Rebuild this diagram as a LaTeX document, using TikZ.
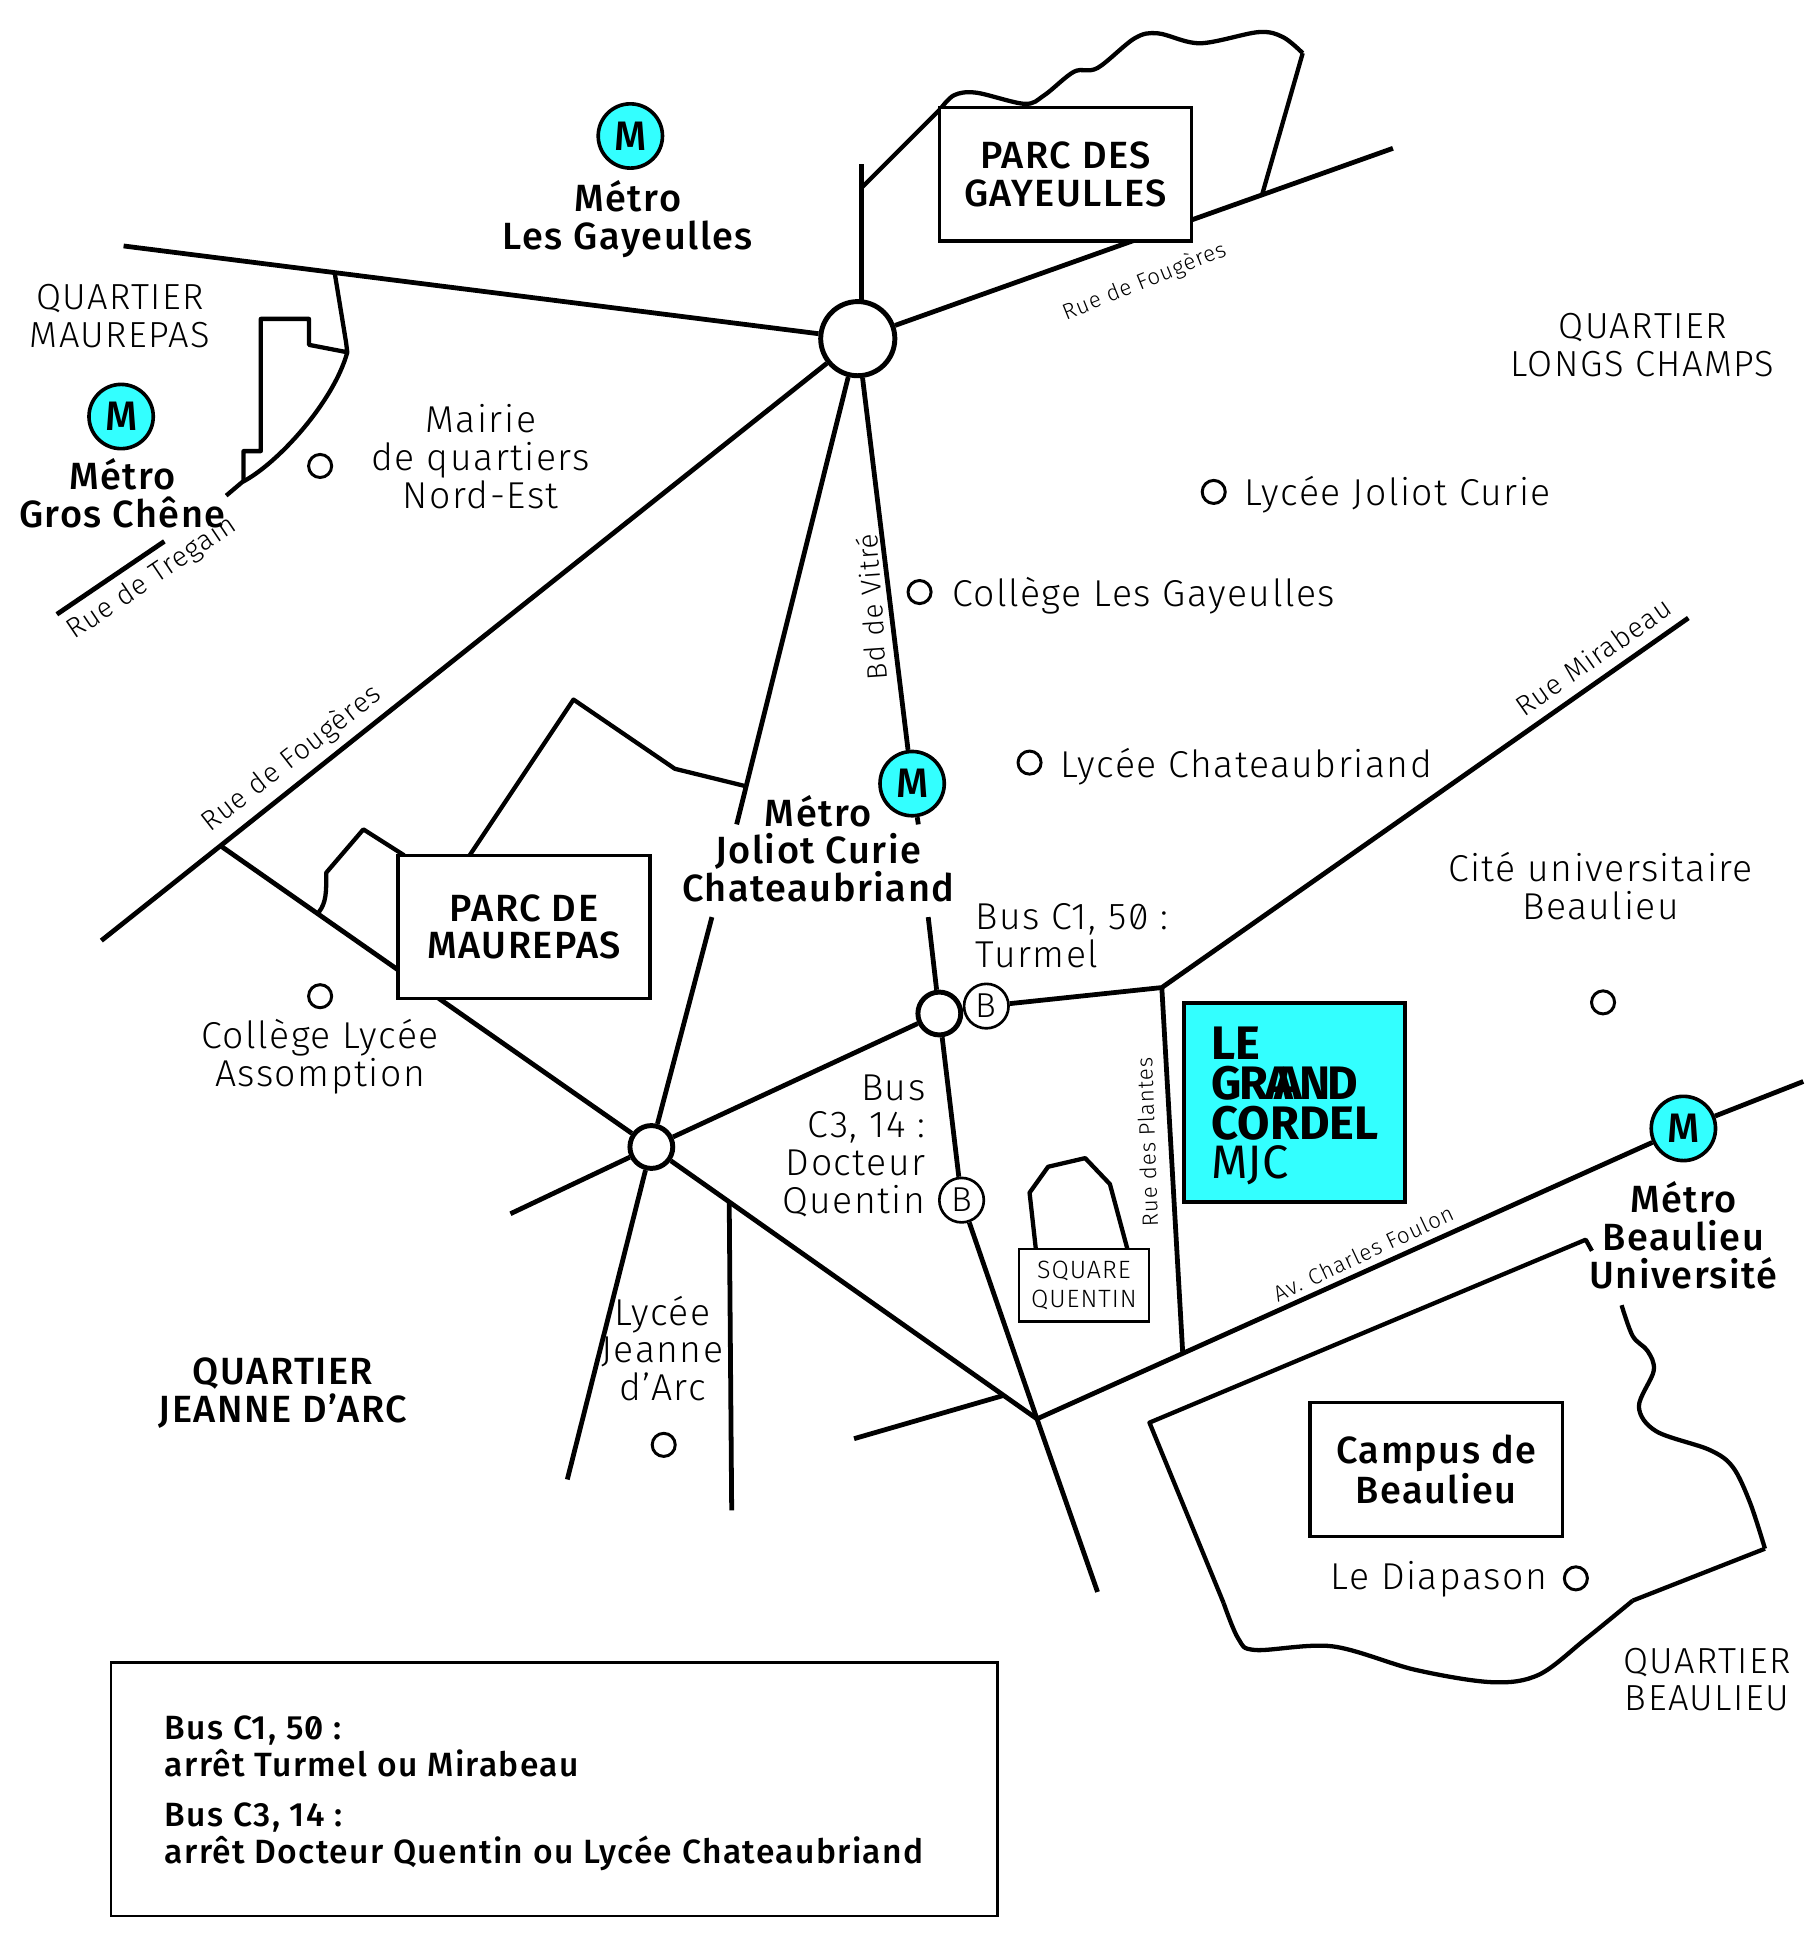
\documentclass[tikz,border=0pt]{standalone}
\usepackage{fontspec}
\setmainfont{Fira Sans Light}[BoldFont={Fira Sans Medium},RawFeature=+zero,LetterSpace=4]
\newfontfamily\cordelfont{Fira Sans}[BoldFont={Fira Sans Bold}]
\definecolor{metrocyan}{HTML}{33FFFF}
\tikzset{
  road/.style={line width=2.9pt,line cap=butt},
  edgeline/.style={line width=2.6pt,line join=round},
  rondpoint/.style={circle,draw,line width=3pt,fill=white,inner sep=0pt},
  metro/.style={circle,draw,line width=2.2pt,fill=metrocyan,inner sep=0pt,minimum size=39pt,font=\bfseries\fontsize{25}{25}\selectfont},
  busstop/.style={circle,draw,line width=1.6pt,fill=white,inner sep=0pt,minimum size=27pt,font=\fontsize{21}{21}\selectfont},
  poi/.style={circle,draw,line width=1.8pt,inner sep=0pt,minimum size=14pt},
  lieu/.style={align=center,inner sep=0pt,font=\fontsize{22.7}{22.9}\selectfont},
  quartier/.style={align=center,inner sep=0pt,font=\fontsize{22}{22.9}\selectfont},
  gras/.style={align=center,inner sep=0pt,font=\bfseries\fontsize{23}{22.9}\selectfont},
  legendetxt/.style={anchor=west,align=left,inner sep=0pt,font=\bfseries\fontsize{20.4}{22.9}\selectfont},
  rue/.style={inner sep=0pt,font=\fontsize{17}{17}\selectfont},
  petiterue/.style={inner sep=0pt,font=\fontsize{13.5}{13.5}\selectfont},
  parc/.style={draw,line width=2pt,fill=white,inner sep=0pt,align=center,font=\bfseries\fontsize{23}{22.9}\selectfont}
}
\begin{document}
\begin{tikzpicture}[x=0.75pt,y=-0.75pt]
\useasboundingbox (0,0) rectangle (1463,1568);
% junctions
\node[rondpoint,minimum size=45pt] (raGayeulles) at (694,274) {};
\node[rondpoint,minimum size=26pt] (raAssomption) at (527,928) {};
\node[rondpoint,minimum size=26pt] (raTurmel) at (760,820) {};
\node[busstop] (busTurmel) at (798,814) {B};
\node[busstop] (busQuentin) at (778,971) {B};
\node[metro] (mGayeulles) at (510,110) {M};
\node[metro] (mGrosChene) at (98,337) {M};
\node[metro] (mJoliot) at (738,634) {M};
\node[metro] (mBeaulieu) at (1362,913) {M};
% free road ends
\coordinate (nordOuest) at (100,199);
\coordinate (fougeresEst) at (1127,120);
\coordinate (fougeresOuest) at (82,761);
\coordinate (tregainBas) at (46,497);
\coordinate (tregainHaut) at (133,438);
\coordinate (jeanneBas) at (459,1197);
\coordinate (jdaBas) at (592,1222);
\coordinate (jdaHaut) at (590,973);
\coordinate (ouestBas) at (413,982);
\coordinate (carrefour) at (839,1148);
\coordinate (vitreBas) at (888,1288);
\coordinate (mirabeau) at (1366,500);
\coordinate (turmelAngle) at (940,799);
\coordinate (foulonEst) at (1459,875);
\coordinate (plantesBas) at (957,1096);
\coordinate (ouestSud) at (691,1164);
\coordinate (ouestSudFin) at (812,1129);
\coordinate (jonctionParc) at (178,684);
% roads
\draw[road] (nordOuest) -- (raGayeulles);
\draw[road] (raGayeulles) -- (fougeresEst);
\draw[road] (raGayeulles) -- (fougeresOuest);
\draw[road] (raGayeulles) -- (596,667);
\draw[road] (576,742) -- (raAssomption);
\draw[road] (raAssomption) -- (jeanneBas);
\draw[road] (raGayeulles) -- (mJoliot);
\draw[road] (mJoliot) -- (743,667);
\draw[road] (751,742) -- (raTurmel);
\draw[road] (raTurmel) -- (busQuentin);
\draw[road,line join=round] (busQuentin) -- (carrefour) -- (vitreBas);
\draw[road] (raAssomption) -- (raTurmel);
\draw[road] (raTurmel) -- (busTurmel);
\draw[road] (raAssomption) -- (ouestBas);
\draw[road] (raAssomption) -- (carrefour);
\draw[road] (jonctionParc) -- (raAssomption);
\draw[road] (jdaHaut) -- (jdaBas);
\draw[road] (ouestSud) -- (ouestSudFin);
\draw[road] (carrefour) -- (mBeaulieu);
\draw[road] (mBeaulieu) -- (foulonEst);
\draw[road,line join=round] (busTurmel) -- (turmelAngle) -- (mirabeau);
\draw[road] (turmelAngle) -- (plantesBas);
\draw[road] (tregainBas) -- (tregainHaut);
% limits of the parks
\draw[edgeline] (697,133) -- (697,245);
\draw[edgeline] (697,152) -- (761,88);
\draw[edgeline] plot[smooth,tension=0.55] coordinates {(761,88) (772,77) (790,75) (829,84) (845,77) (869,58) (888,55) (918,31) (937,27) (971,35) (1018,26) (1038,30) (1054,43)};
\draw[edgeline] (1054,43) -- (1021,158);
\draw[edgeline] (603,636) -- (546,622) -- (464,566) -- (380,692);
\draw[edgeline] (258,738) .. controls (264,730) and (264,722) .. (264,706) -- (294,671) -- (327,692);
\draw[edgeline] (271,222) -- (280,277) -- (281,285) -- (250,279) -- (250,258) -- (211,258) -- (211,365) -- (197,365) -- (197,390);
\draw[edgeline] (281,285) .. controls (270,325) and (225,375) .. (196,390) -- (183,401);
\draw[edgeline] (838,1010) -- (833,965) -- (848,944) -- (878,937) -- (898,958) -- (912,1010);
\draw[edgeline] plot[smooth,tension=0.55] coordinates {(1312,1056) (1321,1081) (1333,1093) (1338,1109) (1326,1138) (1340,1158) (1383,1173) (1402,1187) (1416,1216) (1428,1253)};
\draw[edgeline] (1428,1253) -- (1321,1295);
\draw[edgeline] plot[smooth,tension=0.55] coordinates {(1321,1295) (1283,1326) (1245,1355) (1207,1361) (1145,1351) (1078,1332) (1016,1335) (1002,1326) (990,1297)};
\draw[edgeline] (990,1297) -- (930,1151) -- (1283,1003) -- (1288,1012);
% boxes
\node[parc,minimum width=153pt,minimum height=81pt] (parcGayeulles) at (862,141) {PARC DES\\GAYEULLES};
\node[parc,minimum width=153pt,minimum height=87pt] (parcMaurepas) at (424,750) {PARC DE\\MAUREPAS};
\node[parc,minimum width=153pt,minimum height=81pt] (campus) at (1162,1189) {Campus de\\Beaulieu};
\node[draw,line width=1.6pt,fill=white,inner sep=0pt,align=center,minimum width=79pt,minimum height=44pt,font=\fontsize{15.2}{17.3}\selectfont] (squareQuentin) at (877,1040) {SQUARE\\QUENTIN};
\node[draw,line width=2.2pt,fill=metrocyan,minimum width=134pt,minimum height=121pt] (grandCordel) at (1047.5,892) {};
\node[anchor=west,inner sep=0pt,align=left,font=\cordelfont\fontsize{28.5}{24}\selectfont] (cordelTitre) at (980,895) {\textbf{LE}\\\textbf{G\kern-0.06em R\kern-0.06em A\kern-0.4em A\kern-0.06em N\kern-0.06em D}\\\textbf{CORDEL}\\MJC};
\node[draw,line width=1.6pt,minimum width=538pt,minimum height=154pt] (legende) at (448.5,1447.5) {};
% places
\node[poi] (poiMairie) at (259,377) {};
\node[poi] (poiCurie) at (982,398) {};
\node[poi] (poiCollege) at (744,479) {};
\node[poi] (poiChateau) at (833,617) {};
\node[poi] (poiAssomption) at (259,806) {};
\node[poi] (poiJeanne) at (537,1169) {};
\node[poi] (poiCite) at (1297,811) {};
\node[poi] (poiDiapason) at (1275,1277) {};
% texts
\node[gras] (tGayeulles) at (508,177) {Métro\\Les Gayeulles};
\node[gras] (tGros) at (99,399) {Métro\\Gros Chêne};
\node[gras] (tJoliot) at (662,686.5) {Métro\\Joliot Curie\\Chateaubriand};
\node[gras] (tBeaulieu) at (1362,999.5) {Métro\\Beaulieu\\Université};
\node[gras] (tJeanne) at (229,1127) {QUARTIER\\JEANNE D’ARC};
\node[quartier] (tMaurepas) at (97,256) {QUARTIER\\MAUREPAS};
\node[quartier] (tLongs) at (1329,279) {QUARTIER\\LONGS CHAMPS};
\node[quartier] (tQBeaulieu) at (1381,1359) {QUARTIER\\BEAULIEU};
\node[lieu] (tMairie) at (389,369.5) {Mairie\\de quartiers\\Nord-Est};
\node[lieu,anchor=west] (tCurie) at (1007,400) {Lycée Joliot Curie};
\node[lieu,anchor=west] (tCollege) at (770,482) {Collège Les Gayeulles};
\node[lieu,anchor=west] (tChateau) at (858,620) {Lycée Chateaubriand};
\node[lieu] (tCite) at (1295,717) {Cité universitaire\\Beaulieu};
\node[lieu,anchor=west,align=left] (tTurmel) at (789,757) {Bus C1, 50 :\\Turmel};
\node[lieu,anchor=east,align=right] (tQuentin) at (749,927) {Bus\\C3, 14 :\\Docteur\\Quentin};
\node[lieu] (tAssomption) at (259,855) {Collège Lycée\\Assomption};
\node[lieu] (tLJeanne) at (536,1091) {Lycée\\Jeanne\\d’Arc};
\node[lieu,anchor=east] (tDiapason) at (1252,1278) {Le Diapason};
\node[legendetxt] (tBus1) at (133,1413) {Bus C1, 50 :\\arrêt Turmel ou Mirabeau};
\node[legendetxt] (tBus2) at (133,1486) {Bus C3, 14 :\\arrêt Docteur Quentin ou Lycée Chateaubriand};
% street names
\node[rue,rotate=38] (rFougeres) at (236,614) {Rue de Fougères};
\node[rue,rotate=34] (rTregain) at (123,468) {Rue de Tregain};
\node[petiterue,rotate=22] (rFougeresEst) at (926,228) {Rue de Fougères};
\node[rue,rotate=94] (rVitre) at (705,491) {Bd de Vitré};
\node[rue,rotate=35] (rMirabeau) at (1289,531) {Rue Mirabeau};
\node[petiterue,rotate=92] (rPlantes) at (928,924) {Rue des Plantes};
\node[petiterue,rotate=25] (rFoulon) at (1103,1014) {Av. Charles Foulon};
\end{tikzpicture}
\end{document}
